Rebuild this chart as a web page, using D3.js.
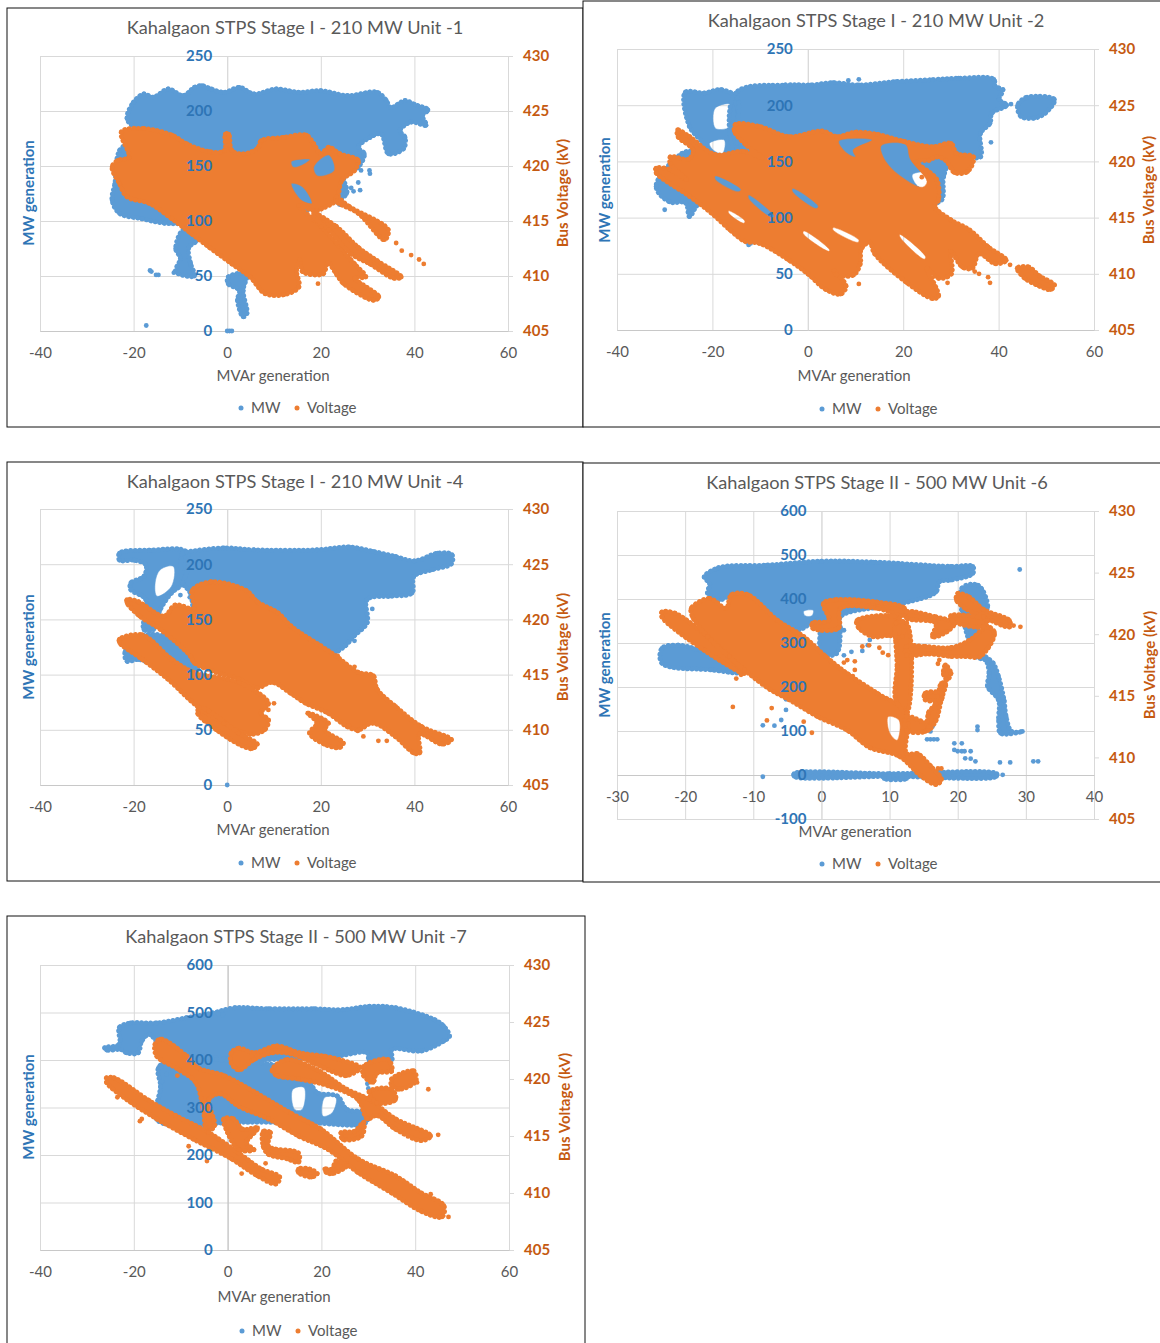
<!DOCTYPE html>
<html>
<head>
<meta charset="utf-8">
<script src="https://cdn.jsdelivr.net/npm/d3@7"></script>
<style>
body { margin: 0; background: #fff; }
text { font-family: Lato, "Open Sans", sans-serif; }
</style>
</head>
<body>
<svg id="page" width="1160" height="1343"></svg>
<script>
// values. each cloud is [outer outline, hole, hole...],
// outlines are [MVAr, MW] or [MVAr, kV] read along the edge of the dense area
var titles = ["Kahalgaon STPS Stage I - 210 MW Unit -1", "Kahalgaon STPS Stage I - 210 MW Unit -2",
    "Kahalgaon STPS Stage I - 210 MW Unit -4", "Kahalgaon STPS Stage II - 500 MW Unit -6",
    "Kahalgaon STPS Stage II - 500 MW Unit -7"];
var seriesNames = ["MW", "Voltage"];
var xTicksWide = [-40, -20, 0, 20, 40, 60];
var xTicksUnit6 = [-30, -20, -10, 0, 10, 20, 30, 40];
var mwTicks210 = [0, 50, 100, 150, 200, 250];
var mwTicks500 = [0, 100, 200, 300, 400, 500, 600];
var mwTicksUnit6 = [-100, 0, 100, 200, 300, 400, 500, 600];
var kvTicks = [405, 410, 415, 420, 425, 430];

// Unit 1
var mw1Clouds = [
    [[[-21.4,193],[-20,208],[-17.8,215.5],[-15.8,212.5],[-12.6,220],[-9.4,214],[-7,221.5],[-5.4,223],[-3.4,220],[-0.6,217],[2.6,221.5],[5.7,215.5],[10.5,220],[15.3,217],[20,218.5],[25.7,214],[32,217],[34,209.5],[34.9,203],[38,209.5],[40,206],[42.9,201],[41.7,196],[42.5,187],[39.3,190],[36.9,182],[38,176],[37.7,166],[34.5,161],[32.9,179],[30.5,176],[28,167],[29.3,161],[28,149],[25,140],[25.5,125],[20,113],[-8.6,98],[-13.4,98],[-18.2,102],[-23,107],[-24.6,119],[-24,134],[-23,164],[-19,179]]],
    [[[-9.4,92],[-6.6,92],[-6.6,82],[-8.2,76],[-7.8,61],[-7,50],[-11,54],[-10,66],[-11,75]]],
    [[[0.2,49],[4.2,52],[3.4,37],[4.2,16],[3.4,13],[2.2,28],[2.6,37],[0.2,43]]]
];
var mw1Dots = [[-16.5,55],[-16.2,54],[-15.2,51],[-14.7,51],[-11.4,53],[-17.3,5],[0,0],[0.5,0],[1,0],[28.6,146],[30.4,146],[30.5,143],[28,135],[28.4,128],[26.5,130],[25,125],[24.6,122],[27,127],[24,115]];
var kv1Clouds = [
    [[[-22.6,423.1],[-17.8,423.4],[-11.8,422.8],[-8.6,422],[-3.8,421.3],[-0.6,421.4],[-0.4,422.9],[0.3,422.9],[1,421.4],[3.4,421.1],[6.5,421.6],[7.3,422.3],[12.1,422.6],[16.9,422.8],[18.5,422],[20,421.1],[21.7,421.7],[24.1,421.1],[28,420.5],[27.2,419.6],[24.5,418.7],[23.3,416.9],[20.1,416.1],[19,415.9],[15.3,416.4],[20.1,414.5],[23.3,413],[27.2,411.1],[29.6,409.9],[27.3,409.8],[32.4,408.1],[31.3,407.8],[24.9,409.3],[23.3,410.2],[21.5,411.2],[20.5,410.2],[16.1,410.4],[15.5,411.5],[14.8,410.5],[15.3,409],[12.1,408.3],[8.1,408.4],[4.9,409.9],[1,411.1],[-3.8,412.6],[-7.8,413.9],[-11.8,415.2],[-16.6,416.6],[-21.4,417.2],[-23,418.4],[-24.6,419.9],[-23.4,420.5],[-21,420.8]],
     [[13.7,418.4],[16.1,418.1],[18.1,416.6],[15.8,416.9]],
     [[18.5,419.9],[21.7,421],[22.9,419.6],[19.3,419.1]],
     [[13.7,420.4],[17.7,420.6],[16.1,420.1],[14.1,419.9]]],
    [[[23.3,417.2],[26.1,416.3],[34.4,414.2],[33.6,413.3],[28,415.7],[23.3,416.8]]],
    [[[18.5,415.7],[23.3,414.5],[28,412.6],[32,411.4],[37.2,409.9],[35.6,409.8],[30.5,411.1],[26.5,412],[21.7,414.2],[18.5,415.4]]]
];
var kv1Dots = [[36.1,413],[37.3,412.3],[39.3,411.9],[41,411.5],[42,411.1],[19.4,409.3]];

// Unit 2
var mw2Clouds = [
    [[[-15.1,210.8],[-4.7,218],[0.7,218],[5.3,220],[10.7,218],[18.5,221],[26.2,222.7],[31.6,224],[39,223],[39.3,216.7],[40.9,213.8],[40.1,205],[41.7,200],[38.6,193],[38.2,184],[36.2,175],[36.2,154],[33.2,154],[30.1,151],[28.5,137],[28.1,116],[25.8,113],[22.3,128],[18.5,130],[10,105],[-0.9,100],[-14.8,150]],
     [[21.9,138],[25.8,139.5],[26.2,124.7],[23.5,126]]],
    [[[-25.7,211.4],[-21.7,210.8],[-18.2,213.8],[-14.8,206.3],[-14.8,175],[-14,145.5],[-7,142.5],[0,104],[-0.9,101],[-8.6,101],[-22.5,113],[-24.8,101],[-25.6,113],[-29,114],[-31.8,127.7],[-26.4,157],[-21.7,163],[-24.8,181]],
     [[-19.4,197.4],[-15.5,200.4],[-15.5,184],[-16.7,179.6],[-19.4,179.6]],
     [[-20.6,166],[-17.5,169],[-17.9,157],[-19.8,160]]],
    [[[44,200],[45.9,207],[51.7,205],[49.8,193],[47.4,188.5],[44.7,190]]]
];
var mw2Dots = [[-30,107],[38.4,167],[42.6,201],[-12.4,75.7],[-12.8,78],[-12,77],[8.5,222],[10.7,223],[-3,147],[16,113]];
var kv2Clouds = [
    [[[-27.3,422.8],[-24.8,422.2],[-19.4,420.6],[-13.5,420.9],[-9.5,420.3],[-13,421.5],[-15.4,422.7],[-15.1,423.3],[-10.1,423.1],[-3.9,422.2],[3,422.7],[6.1,422.2],[10,422.6],[14.6,422.4],[20,421.8],[26.2,421.3],[30,421.6],[31.2,420.7],[34.7,420.4],[33.5,419.1],[30.8,419],[28.9,420.1],[27,420.4],[25.4,420.1],[22.7,420],[27,418.4],[27.4,416.6],[26.6,416],[30,414.8],[33.9,413.9],[37.8,412.4],[41.6,411.2],[39.3,410.9],[35.9,411.8],[34.5,410.5],[32.4,410.6],[30,412],[30.1,410],[27.4,409.6],[25,410.5],[27.4,408],[26.2,407.8],[20.8,409.2],[14,411.8],[13,412.8],[11.2,412.2],[11,410.9],[9.6,409.9],[6.1,409.9],[5.5,410.3],[8,408.9],[6.9,408.2],[3.8,408.6],[0,410],[-3.9,411.2],[-10.1,412.7],[-13.2,412.9],[-16.3,413.9],[-20.2,415.4],[-24.8,416.9],[-31.8,419],[-31.8,419.4],[-29.1,419.3],[-25.5,418.4],[-28.8,419.8],[-28.8,420.4],[-25,420.2],[-24,421],[-27.2,422.2]],
     [[6.5,421.8],[13.5,421.9],[9.5,421],[10,420.4],[8,420.8]],
     [[15.4,421.4],[20.5,421.5],[21.5,420.2],[25,418.2],[24,417.7],[18.5,419],[15.8,420.4]],
     [[-19.4,418.7],[-14,417.5],[-14.6,417.3],[-19.4,418.4]],
     [[-12.4,417],[-7,415.1],[-7.6,415],[-12.4,416.7]],
     [[-3.2,417.6],[2.2,416],[1.8,415.8],[-3.2,417.3]],
     [[-0.8,413.8],[4.6,412.1],[4.4,412],[-1,413.6]],
     [[5.3,414.1],[10.7,413],[10.5,412.8],[5.3,413.9]],
     [[-16.6,415.6],[-13.2,414.7],[-13.4,414.5],[-16.6,415.4]],
     [[19.3,413.5],[24.7,411.5],[24.4,411.3],[19.3,413.3]]],
    [[[43.9,410.5],[46.3,410.6],[48.6,409.8],[51.7,409],[50.9,408.6],[48.6,408.9],[45.5,409.6]]]
];
var kv2Dots = [[23.9,418.6],[42.4,410.8],[10.7,409.1],[29.3,409.2],[38.2,409.2],[37.8,409.7],[35.9,410],[33.9,410.5],[35,410.2]];

// Unit 4
var mw4Clouds = [
    [[[-9.5,210],[-8.7,211],[-0.7,214.7],[5.7,213],[19.2,213],[26,215.6],[31.1,211.7],[35.9,207],[40,203],[45,210],[48,208.7],[47.9,200.5],[43.8,195],[39.9,189],[39.5,174],[35.1,171],[29.9,168],[29.9,147],[27.1,135],[25.2,126],[21.6,117],[15.2,114],[-0.7,114],[-5.5,107.7],[-7.9,174],[-9.5,183]]],
    [[[-23,210],[-16.6,212.6],[-8.7,211],[-9.5,183],[-11.9,174],[-14.3,159],[-15.8,140.8],[-17.8,140.8],[-17.4,168],[-20.6,177],[-20.6,183],[-17.8,189],[-17.4,199.6],[-19.9,203.6],[-23,203.6]],
     [[-14.3,195],[-11.5,198],[-11.9,180],[-15,171],[-15.4,183]]],
    [[[-18.2,134.8],[-13.5,134.8],[-7.1,113.7],[-6.3,104.6],[-14.3,107.7],[-19,113.7],[-21.4,112.2],[-21.8,121]]]
];
var mw4Dots = [[31,159.5],[27.2,130.6],[0,0],[21.6,119.7],[-10,172],[-8,170],[-7,165]];
var kv4Clouds = [
    [[[-7.5,422.6],[-3.5,423.4],[4.1,422.6],[6.4,421.6],[10.8,420.6],[13.6,419.4],[20,417.6],[23.2,416.7],[28,415.2],[31.2,414.9],[32,413.7],[36,412.1],[41.5,410.3],[47.9,409.1],[45.9,408.7],[41.1,409.6],[41.1,407.9],[39.9,407.9],[35.9,409.4],[31.1,410.6],[28,410],[25.6,410.3],[21.6,411.5],[16.8,412.4],[13.6,413.3],[9.6,414.3],[6.4,413.8],[2.5,414.6],[-2.3,415.2],[-7.1,416.1],[-7.9,416.7],[-14.3,419.1],[-18.7,420.3],[-21.4,421.5],[-21.4,421.8],[-19,421.6],[-13.5,420.3],[-11.1,421.3],[-7.1,421]]],
    [[[-23,418.2],[-18.2,418.6],[-11.9,416.4],[-7.1,415.2],[2.5,414.3],[8.8,412.4],[7.2,411.5],[8.8,410.9],[8,410],[4.9,409.6],[-0.7,410.6],[-6.3,412.1],[-12.7,414.6],[-18.2,416.4],[-23,417.9]]],
    [[[-5.9,412],[-3.9,411.7],[2.5,409.7],[6.4,408.7],[5.3,408.3],[2.5,408.7],[-2.3,410],[-6.3,411.5]]],
    [[[17.2,411.5],[21.6,410.6],[20.8,410],[24.8,408.8],[24,408.4],[20.8,408.7],[17.6,409.7],[19.2,410.6]]]
];
var kv4Dots = [[10,412.4],[8.8,411.8],[26,410.4],[27.9,409.9],[29.1,409.4],[32.3,409],[34.1,409],[23.6,416.7],[27.2,415.7]];

// Unit 6
var mw6Clouds = [
    [[[-17.2,450],[-15.1,471],[-8,477],[0,486],[7.6,484],[19,474],[22.2,474],[22.2,458],[19,443],[17.3,439],[16.8,416],[11.9,390],[2.8,360],[2.8,329],[2.2,276],[0,276],[-0.5,352],[-3.7,329],[-13.5,405],[-15.1,397],[-16.7,413],[-16.4,435]],
     [[-2.6,372],[-1.2,374],[-1.4,362],[-2.4,362]]],
    [[[-23.4,288],[-21,295],[-17.8,284],[-11.3,254],[-11.3,235],[-16.2,239],[-23.4,254]]],
    [[[-4,3],[10,3],[25.7,3],[25.7,-3],[10,-3],[-4,-3]]],
    [[[9.2,-3],[12.5,-3],[12.5,-8],[9.2,-8]]],
    [[[20.6,424],[23,431],[24.4,382],[23.6,360],[22.7,291],[25.2,254],[26,223],[26.8,170],[27.1,133],[27.9,99],[29.5,99],[26.3,95],[26,125],[26,170],[24.4,201],[24.6,231],[24.1,261],[22.7,269]]]
];
var mw6Dots = [[29.1,467],[-8.6,-4],[26.6,0.5],[26.2,28.5],[27.7,28.5],[31.1,31],[31.8,31],[22.6,31],[22.9,110],[22.9,102],[-8.6,113],[-6.9,112],[-5.9,125],[-5.2,148],[-5.2,172],[19.5,72],[20.6,72],[19.5,57],[20.6,54],[21.9,54],[21.1,38],[21.9,37],[20,54],[21,54],[15.5,81],[16,81],[16.5,81],[17,81],[16,99],[16.3,110],[3.3,272],[4.4,280],[6,282],[6.8,295],[7.1,307],[3.3,329]];
var kv6Clouds = [
    [[[-23.4,421.8],[-21.5,421.7],[-16.7,419.8],[-13.5,418.2],[-11.3,416.8],[-17.2,418.7],[-23.4,421.4]]],
    [[[-19.1,422.1],[-16.4,422.9],[-14,422.1],[-13.2,423.2],[-10.8,423.2],[-6.4,421.1],[-2.6,419.8],[0.6,418.2],[3.8,416.8],[8.2,415.2],[12.5,413.6],[12.5,410.3],[14.1,410.3],[16,409.3],[17.6,408.2],[16.8,407.8],[14.6,408.5],[11.4,410.1],[7.1,410.8],[3.8,412.2],[-0.5,413.3],[-4.8,414.7],[-7.5,415.5],[-11.3,417.1],[-16.7,419.8],[-18.9,421.4]],
     [[9.8,413.3],[11.4,413],[11.1,411.4],[10,412]]],
    [[[0.3,422.5],[2.2,422.8],[8.2,422.6],[12.2,422.1],[12.2,421.5],[8.2,422.1],[2.8,422.1],[2.5,420.5],[-1.3,420.5],[-1.3,420.9],[1.1,421.1]]],
    [[[5.2,421.1],[11.4,421.3],[11.9,419.8],[9.8,419.9],[7.6,419.8],[5.5,420.5]]],
    [[[10.9,420.9],[12.5,420.9],[12.5,413.6],[10.9,414.7],[11.1,417.4],[10.9,419.5]]],
    [[[12.5,419],[15.2,419],[19,418.9],[21.7,419.5],[24.4,420.6],[25.4,420.1],[23.3,418.2],[21.1,418.2],[19,418.2],[15.7,418.4],[12.5,418.3]]],
    [[[20,423.3],[21.7,423],[23.8,422],[27.6,421.1],[27.6,420.6],[23.8,421.4],[21.1,422.1],[19.8,422.8]]],
    [[[12.5,421.8],[16.8,421.4],[19.5,420.9],[18.4,420.2],[16.3,419.8],[16.8,420.9],[12.5,421.3]]],
    [[[19,421.5],[24.4,421.1],[23.8,420.6],[19.2,421.1]]],
    [[[12.5,413.3],[15.7,412.5],[15.2,412.1],[12.5,412.2]]],
    [[[15.7,413.6],[16.8,414.4],[17.6,416],[18.2,416],[17.6,414.7],[16.8,413],[15.7,412.2]]],
    [[[15.2,415.2],[17.6,415.2],[17.6,414.7],[15.2,414.7]]],
    [[[18.2,417.5],[19,416.8],[18.4,416.3],[17.9,416.8]]]
];
var kv6Dots = [[9.8,418.3],[3.8,417.9],[4.9,417.8],[4.9,417.1],[4.6,416.6],[3.3,417.7],[17.3,417.9],[17.1,417.6],[-13,414.1],[-7.3,414],[-8,413],[-2.6,412.9],[-1.4,412],[-12.5,416.4],[-11.8,416.7],[17.1,409.1],[17.6,409.1],[28.2,420.7],[29.2,420.6],[6,419],[7,419.1],[8.5,418.9],[9,418.5]];

// Unit 7
var mw7Clouds = [
    [[[-26.2,425.8],[-23.1,433],[-23.1,468],[-20.7,478],[-15.1,478],[-8.7,489],[-3.2,499],[1.6,510],[8.7,508],[18.3,508],[24.6,506],[30.2,513],[35.8,510],[44.1,485],[46.1,471],[47.3,450],[46.1,440],[41.3,419],[35,422],[35,401],[30.2,398],[29.8,415],[23,408],[2.4,401],[-8.7,415],[-14.7,436],[-16.7,454],[-18.3,440],[-19.1,415],[-21.5,415],[-22.7,422],[-25.8,421]]],
    [[[-14.7,384],[-8.7,415],[-2.4,401],[7.2,394],[13.5,380],[17.5,352],[19.1,331],[23.4,324],[25.4,296],[29.8,289],[29.4,268],[16.7,268],[-0.8,268],[-7.2,261],[-15.1,275],[-14.3,345]],
     [[13.9,338],[16.3,342],[15.9,296],[14.3,296]],
     [[20.7,321],[23.1,321],[22.3,289],[20.3,282]]]
];
var mw7Dots = [[29.8,350],[30,340],[-2,497],[-1,495],[-14.2,385],[-13,370],[-14,355]];
var kv7Clouds = [
    [[[-14.3,423.5],[-8.7,422],[-6.4,421],[-0.8,420.3],[5.6,418.9],[13.5,417],[19.9,415.6],[27.8,413],[35.8,411.5],[41.3,410],[46.1,408.9],[45.7,407.9],[41.3,408.4],[35,410],[27.8,411.8],[21.5,413.8],[15.1,415],[8.7,416.5],[2.4,417.6],[-1.6,418.7],[-4,418.2],[-2.8,415.9],[-4.4,415.4],[-5.2,417.3],[-6.8,419.7],[-10.3,420.8],[-15.1,422],[-15.5,423]]],
    [[[-25.8,420.1],[-24.2,420.1],[-16.7,418.1],[-11.1,416.8],[-4,415.3],[2.4,413.5],[7.2,412.1],[11.1,411.4],[10.3,410.8],[6.4,411.5],[0.8,413],[-7.2,414.7],[-15.1,416.5],[-21.5,418.2],[-25.8,419.7]]],
    [[[9.5,420.8],[12.7,421.7],[19.1,420.8],[25.4,419.1],[30.2,418.2],[35.8,416.5],[43.3,415],[41.3,414.6],[35.8,415.6],[31.8,416.8],[29.8,416.5],[27.8,418.2],[21.5,419.4],[15.1,420],[10.5,420.3]]],
    [[[0.8,422.3],[2.4,422.7],[5.6,422.3],[10.5,422.9],[15.3,422.3],[20.7,422],[23.8,421.7],[28.2,421],[25.4,420.3],[21.5,420.8],[18.3,421.4],[13.5,422.2],[9.5,422.3],[5.6,421.7],[2.4,420.8],[0.8,421.4]]],
    [[[29,421.1],[34.2,421.7],[35,420.7],[31.8,420.5],[31,419.7],[29,420.3]]],
    [[[35,420],[39.7,420.7],[40.1,419.8],[36.6,419.1],[35,419.4]]],
    [[[30.2,418.9],[35,419.1],[35.8,418.2],[31.8,417.9]]],
    [[[-0.8,416.5],[1.2,416.5],[3.2,415.6],[6.4,415.7],[4,414.4],[5.6,413.8],[2.4,413.8],[0,415.3]]],
    [[[7.6,415.4],[9.1,415.3],[8.7,414.1],[15.1,413.5],[15.1,412.7],[12.7,413],[8.7,413.4],[7.6,414.1]]],
    [[[15.1,412.1],[17.5,412.1],[19.1,411.7],[17.9,411.4],[15.1,411.8]]],
    [[[20.7,412.1],[22.3,412.1],[23.1,412.8],[25.4,412.4],[22.3,411.7],[21.1,411.8]]],
    [[[24.2,415.3],[27,415.4],[29,416.2],[28.6,415],[24.6,414.7]]]
];
var kv7Dots = [[-18.3,416.5],[-18.7,416.3],[-8.3,414.1],[-4.4,412.8],[3,411.7],[8.1,412.6],[44.9,415.1],[42.8,419.1],[40.4,419.7],[43.3,409.9],[45.7,409],[47.1,407.9],[-10.7,420.3],[-23.5,418.4]];

// where each chart sits on the page
var panels = [
    {box: [7, 8, 583, 427], plot: [40, 56, 508, 331], xDomain: [-40, 60], xTicks: xTicksWide, mwDomain: [0, 250], mwTicks: mwTicks210, zeroLine: "#d9d9d9",
     titleAt: [295, 28], xTitleAt: [273, 376], legendAt: [241, 408], mwTitleX: 29, kvTitleX: 563, sideY: 193, mw: mw1Clouds, mwDots: mw1Dots, kv: kv1Clouds, kvDots: kv1Dots},
    {box: [583, 1, 1170, 427], plot: [617, 49, 1094, 330], xDomain: [-40, 60], xTicks: xTicksWide, mwDomain: [0, 250], mwTicks: mwTicks210, zeroLine: "#d9d9d9",
     titleAt: [876, 21], xTitleAt: [854, 376], legendAt: [822, 409], mwTitleX: 605, kvTitleX: 1149, sideY: 190, mw: mw2Clouds, mwDots: mw2Dots, kv: kv2Clouds, kvDots: kv2Dots},
    {box: [7, 462, 583, 881], plot: [40, 509, 508, 785], xDomain: [-40, 60], xTicks: xTicksWide, mwDomain: [0, 250], mwTicks: mwTicks210, zeroLine: "#d9d9d9",
     titleAt: [295, 482], xTitleAt: [273, 830], legendAt: [241, 863], mwTitleX: 29, kvTitleX: 563, sideY: 647, mw: mw4Clouds, mwDots: mw4Dots, kv: kv4Clouds, kvDots: kv4Dots},
    {box: [583, 463, 1170, 882], plot: [617, 511, 1094, 819], xDomain: [-30, 40], xTicks: xTicksUnit6, mwDomain: [-100, 600], mwTicks: mwTicksUnit6, zeroLine: "#d9d9d9",
     titleAt: [877, 483], xTitleAt: [855, 832], legendAt: [822, 864], mwTitleX: 605, kvTitleX: 1150, sideY: 665, mw: mw6Clouds, mwDots: mw6Dots, kv: kv6Clouds, kvDots: kv6Dots},
    {box: [7, 916, 585, 1360], plot: [40, 965, 509, 1250], xDomain: [-40, 60], xTicks: xTicksWide, mwDomain: [0, 600], mwTicks: mwTicks500, zeroLine: "#bfbfbf",
     titleAt: [296, 937], xTitleAt: [274, 1297], legendAt: [242, 1331], mwTitleX: 29, kvTitleX: 565, sideY: 1107, mw: mw7Clouds, mwDots: mw7Dots, kv: kv7Clouds, kvDots: kv7Dots}
];

var blue = "#5b9bd5", orange = "#ed7d31";
var blueText = "#2e75b6", orangeText = "#c55a11", greyText = "#595959", gridColor = "#d9d9d9";
var dotR = 2.4;

var svg = d3.select("#page");

panels.forEach(function(p, i) {
    var x = d3.scaleLinear().domain(p.xDomain).range([p.plot[0], p.plot[2]]);
    var yMw = d3.scaleLinear().domain(p.mwDomain).range([p.plot[3], p.plot[1]]);
    var yKv = d3.scaleLinear().domain([405, 430]).range([p.plot[3], p.plot[1]]);
    var w = p.plot[2] - p.plot[0], h = p.plot[3] - p.plot[1];
    var g = svg.append("g");

    g.append("rect").attr("x", p.box[0]).attr("y", p.box[1])
        .attr("width", p.box[2] - p.box[0]).attr("height", p.box[3] - p.box[1])
        .attr("fill", "#fff").attr("stroke", "#111");

    // gridlines
    g.append("g").attr("transform", "translate(" + p.plot[0] + ",0)")
        .call(d3.axisLeft(yMw).tickValues(p.mwTicks).tickSize(-w).tickFormat(""))
        .call(function(a) { a.select(".domain").attr("stroke", gridColor); a.selectAll("line").attr("stroke", gridColor); });
    g.append("g").attr("transform", "translate(0," + p.plot[3] + ")")
        .call(d3.axisBottom(x).tickValues(p.xTicks).tickSize(-h).tickFormat(""))
        .call(function(a) { a.select(".domain").attr("stroke", gridColor); a.selectAll("line").attr("stroke", gridColor); });

    // right axis line and ticks
    var right = g.append("g").attr("transform", "translate(" + p.plot[2] + ",0)")
        .call(d3.axisRight(yKv).tickValues(kvTicks).tickSize(5).tickPadding(10).tickFormat(String));
    right.select(".domain").attr("stroke", gridColor);
    right.selectAll("line").attr("stroke", gridColor);
    right.selectAll("text").attr("fill", orangeText).style("font-size", "15px").style("font-weight", 700).style("font-family", "Lato");

    // bottom and left axes cross at zero, under the marks
    var bottom = g.append("g").attr("transform", "translate(0," + yMw(0) + ")")
        .call(d3.axisBottom(x).tickValues(p.xTicks).tickSize(0).tickPadding(16).tickFormat(String));
    bottom.select(".domain").attr("stroke", "#c8c8c8");
    bottom.selectAll("text").attr("fill", greyText).style("font-size", "15px").style("font-family", "Lato");

    var leftLine = g.append("g").attr("transform", "translate(" + x(0) + ",0)")
        .call(d3.axisLeft(yMw).tickValues([]).tickSize(0));
    leftLine.select(".domain").attr("stroke", p.zeroLine);

    // marks
    drawSeries(g, p.mw, p.mwDots, x, yMw, blue);
    drawSeries(g, p.kv, p.kvDots, x, yKv, orange);

    // left labels stay readable on top of the clouds
    var left = g.append("g").attr("transform", "translate(" + x(0) + ",0)")
        .call(d3.axisLeft(yMw).tickValues(p.mwTicks).tickSize(0).tickPadding(15).tickFormat(String));
    left.select(".domain").remove();
    left.selectAll("text").attr("fill", blueText).style("font-size", "15px").style("font-weight", 700).style("font-family", "Lato");

    // titles
    g.append("text").attr("x", p.titleAt[0]).attr("y", p.titleAt[1]).attr("dy", "0.35em")
        .attr("text-anchor", "middle").attr("fill", greyText).style("font-size", "18.2px").text(titles[i]);
    g.append("text").attr("x", p.xTitleAt[0]).attr("y", p.xTitleAt[1]).attr("dy", "0.35em")
        .attr("text-anchor", "middle").attr("fill", greyText).style("font-size", "15px").text("MVAr generation");
    sideTitle(g, p.mwTitleX, p.sideY, "MW generation", blueText);
    sideTitle(g, p.kvTitleX, p.sideY, "Bus Voltage (kV)", orangeText);

    // legend
    var lx = p.legendAt[0], ly = p.legendAt[1];
    g.append("circle").attr("cx", lx).attr("cy", ly).attr("r", 2.5).attr("fill", blue);
    g.append("text").attr("x", lx + 10).attr("y", ly).attr("dy", "0.35em").attr("fill", greyText).style("font-size", "15px").text(seriesNames[0]);
    g.append("circle").attr("cx", lx + 56).attr("cy", ly).attr("r", 2.5).attr("fill", orange);
    g.append("text").attr("x", lx + 66).attr("y", ly).attr("dy", "0.35em").attr("fill", greyText).style("font-size", "15px").text(seriesNames[1]);
});

function drawSeries(g, clouds, dots, x, y, color) {
    var line = d3.line().curve(d3.curveCatmullRomClosed.alpha(0.5))
        .x(function(d) { return x(d[0]); }).y(function(d) { return y(d[1]); });
    g.append("g").selectAll("path").data(clouds).enter().append("path")
        .attr("d", function(rings) {
            return rings.map(function(r) { return line(r); }).join("");
        })
        .attr("fill", color).attr("fill-rule", "evenodd")
        .attr("stroke", color).attr("stroke-width", 0.5);
    // the outer edge is a chain of round dabs so it reads as overlapping markers
    g.append("g").selectAll("path").data(clouds).enter().append("path")
        .attr("d", function(rings) { return line(rings[0]); })
        .attr("fill", "none").attr("stroke", color).attr("stroke-width", 5)
        .attr("stroke-linecap", "round").attr("stroke-dasharray", "0.1 4.4");
    // a dot on every edge point read, then the loose points
    var edge = d3.merge(clouds.map(function(rings) { return rings[0]; }));
    g.append("g").attr("fill", color).selectAll("circle").data(edge.concat(dots)).enter().append("circle")
        .attr("cx", function(d) { return x(d[0]); })
        .attr("cy", function(d) { return y(d[1]); })
        .attr("r", dotR);
}

function sideTitle(g, tx, ty, label, color) {
    g.append("text").attr("transform", "translate(" + tx + "," + ty + ") rotate(-90)")
        .attr("dy", "0.35em").attr("text-anchor", "middle").attr("fill", color)
        .style("font-size", "15px").style("font-weight", 700).text(label);
}
</script>
</body>
</html>
